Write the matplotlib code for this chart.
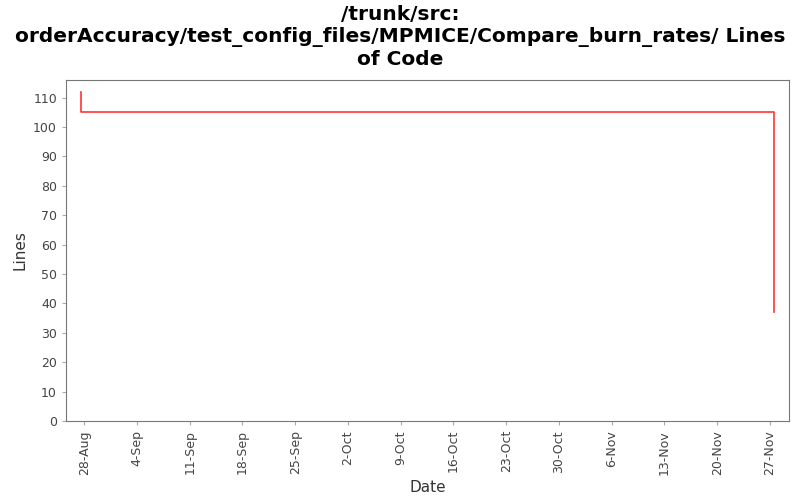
import matplotlib
matplotlib.use('Agg')
import matplotlib.pyplot as plt
import matplotlib.dates as mdates
from datetime import datetime

# commits: date, lines of code
dates = [datetime(2007, 8, 27, 14), datetime(2007, 8, 27, 15), datetime(2007, 11, 27, 12), datetime(2007, 11, 27, 13)]
lines = [112, 105, 105, 37]

tick_dates = [datetime(2007, 8, 28), datetime(2007, 9, 4), datetime(2007, 9, 11), datetime(2007, 9, 18),
              datetime(2007, 9, 25), datetime(2007, 10, 2), datetime(2007, 10, 9), datetime(2007, 10, 16),
              datetime(2007, 10, 23), datetime(2007, 10, 30), datetime(2007, 11, 6), datetime(2007, 11, 13),
              datetime(2007, 11, 20), datetime(2007, 11, 27)]

fig = plt.figure(figsize=(8, 5), dpi=100)
ax = fig.add_axes([0.0825, 0.158, 0.9035, 0.682])

ax.plot(dates, lines, color='#ff3333', linewidth=1.2, drawstyle='steps-post')

ax.set_xlim(datetime(2007, 8, 25, 14), datetime(2007, 11, 29, 12))
ax.set_ylim(0, 116)
ax.set_yticks(range(0, 111, 10))
ax.set_xticks(tick_dates)
ax.xaxis.set_major_formatter(mdates.DateFormatter('%-d-%b'))
plt.setp(ax.get_xticklabels(), rotation=90)

ax.tick_params(colors='#444444', labelsize=9, length=3)
ax.tick_params(axis='both', color='#aaaaaa')
for s in ax.spines.values():
    s.set_color('#777777')

ax.set_xlabel('Date', fontsize=11, color='#333333')
ax.set_ylabel('Lines', fontsize=11, color='#333333')
fig.suptitle('/trunk/src:\norderAccuracy/test_config_files/MPMICE/Compare_burn_rates/ Lines\nof Code',
             fontsize=14.5, fontweight='bold', y=0.99, linespacing=1.2)

fig.savefig('out.png', dpi=100)
